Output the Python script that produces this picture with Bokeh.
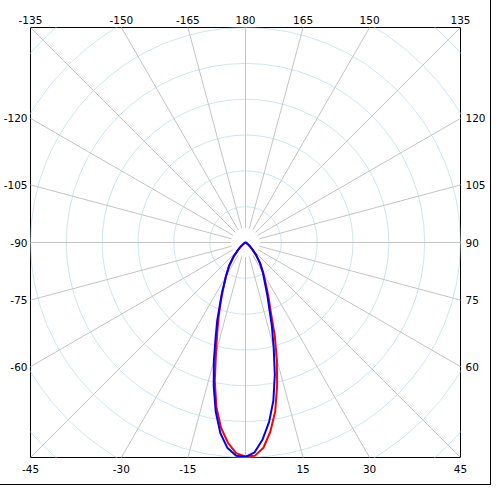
import numpy as np
from bokeh.plotting import figure
from bokeh.models import Range1d, LinearAxis, FixedTicker
from bokeh.embed import file_html
from bokeh.resources import INLINE

# gamma angles (deg, 0 = straight down, positive = right side)
angles = [-90, -80, -70, -60, -55, -50, -45, -40, -35, -30, -25, -22.5, -20, -17.5, -15,
          -12.5, -10, -7.5, -5, -2.5, 0, 2.5, 5, 7.5, 10, 12.5, 15, 17.5, 20, 22.5, 25,
          30, 35, 40, 45, 50, 55, 60, 70, 80, 90]
blue_vals = [0, 1, 3, 4, 8, 17, 31, 53, 81, 109, 156, 186, 230, 277, 341,
             410, 479, 537, 576, 596, 598, 586, 551, 505, 448, 378, 304, 245, 193, 159, 131,
             97, 70, 46, 26, 14, 8, 4, 3, 1, 0]
red_vals = [0, 1, 3, 4, 8, 15, 29, 50, 78, 109, 151, 181, 218, 262, 318,
            396, 467, 522, 561, 589, 597, 596, 575, 532, 478, 408, 338, 271, 206, 170, 140,
            100, 73, 47, 28, 15, 8, 4, 3, 1, 0]

ring_radii = [100, 200, 300, 400, 500, 600, 700, 800]
spoke_angles = [-165, -150, -135, -120, -105, -90, -75, -60, -45, -30, -15, 0,
                15, 30, 45, 60, 75, 90, 105, 120, 135, 150, 165, 180]
top_labels = [-135, -150, -165, 180, 165, 150, 135]
left_labels = [-120, -105, -90, -75, -60]
right_labels = [120, 105, 90, 75, 60]
bottom_labels = [-45, -30, -15, 15, 30, 45]

R = 600  # half-extent of the frame in data units

p = figure(frame_width=430, frame_height=430, output_backend="svg", toolbar_location=None,
           x_range=Range1d(-R, R), y_range=Range1d(-R, R),
           x_axis_type=None, y_axis_type=None,
           min_border_left=27, min_border_right=30, min_border_top=27, min_border_bottom=27)
p.grid.visible = False
p.outline_line_color = "black"
p.outline_line_width = 1
p.background_fill_color = "white"
p.border_fill_color = "white"
p.styles = {"outline": "1px solid black", "outline-offset": "0px"}


def to_xy(a_deg, r):
    a = np.radians(np.asarray(a_deg, dtype=float))
    r = np.asarray(r, dtype=float)
    return r * np.sin(a), -r * np.cos(a)


# rings
p.circle(x=[0] * len(ring_radii), y=[0] * len(ring_radii), radius=ring_radii,
         fill_color=None, line_color="#cfe6ee", line_width=1)

# spokes
r0, r1 = 40, 1000
xs, ys = [], []
for a in spoke_angles:
    x, y = to_xy([a, a], [r0, r1])
    xs.append(list(x))
    ys.append(list(y))
p.multi_line(xs=xs, ys=ys, line_color="#c4c4c4", line_width=1)

# curves
rx, ry = to_xy(angles, red_vals)
p.line(rx, ry, line_color="#ff0000", line_width=2)
bx, by = to_xy(angles, blue_vals)
p.line(bx, by, line_color="#0000ff", line_width=2)

font = "DejaVu Sans"
fs = "10.5px"


def edge_positions(labels, side):
    pos = []
    for a in labels:
        t = np.radians(a)
        if side == "above":
            v = R / (-np.cos(t)) * np.sin(t)
        elif side == "below":
            v = R / np.cos(t) * np.sin(t)
        elif side == "left":
            v = (R / np.sin(t)) * np.cos(t)
        else:
            v = -(R / np.sin(t)) * np.cos(t)
        pos.append(round(float(v), 3))
    return pos


for labels, side, standoff in [(top_labels, "above", 4), (bottom_labels, "below", 7),
                               (left_labels, "left", 3), (right_labels, "right", 5)]:
    pos = edge_positions(labels, side)
    ax = LinearAxis(ticker=FixedTicker(ticks=pos),
                    major_label_overrides={v: str(a) for v, a in zip(pos, labels)})
    ax.axis_line_color = None
    ax.major_tick_line_color = None
    ax.minor_tick_line_color = None
    ax.major_tick_out = 0
    ax.major_tick_in = 0
    ax.major_label_standoff = standoff
    ax.major_label_text_font = font
    ax.major_label_text_font_size = fs
    ax.major_label_text_color = "black"
    ax.major_label_orientation = "horizontal"
    p.add_layout(ax, side)

open("out.html", "w").write(file_html(p, INLINE))
